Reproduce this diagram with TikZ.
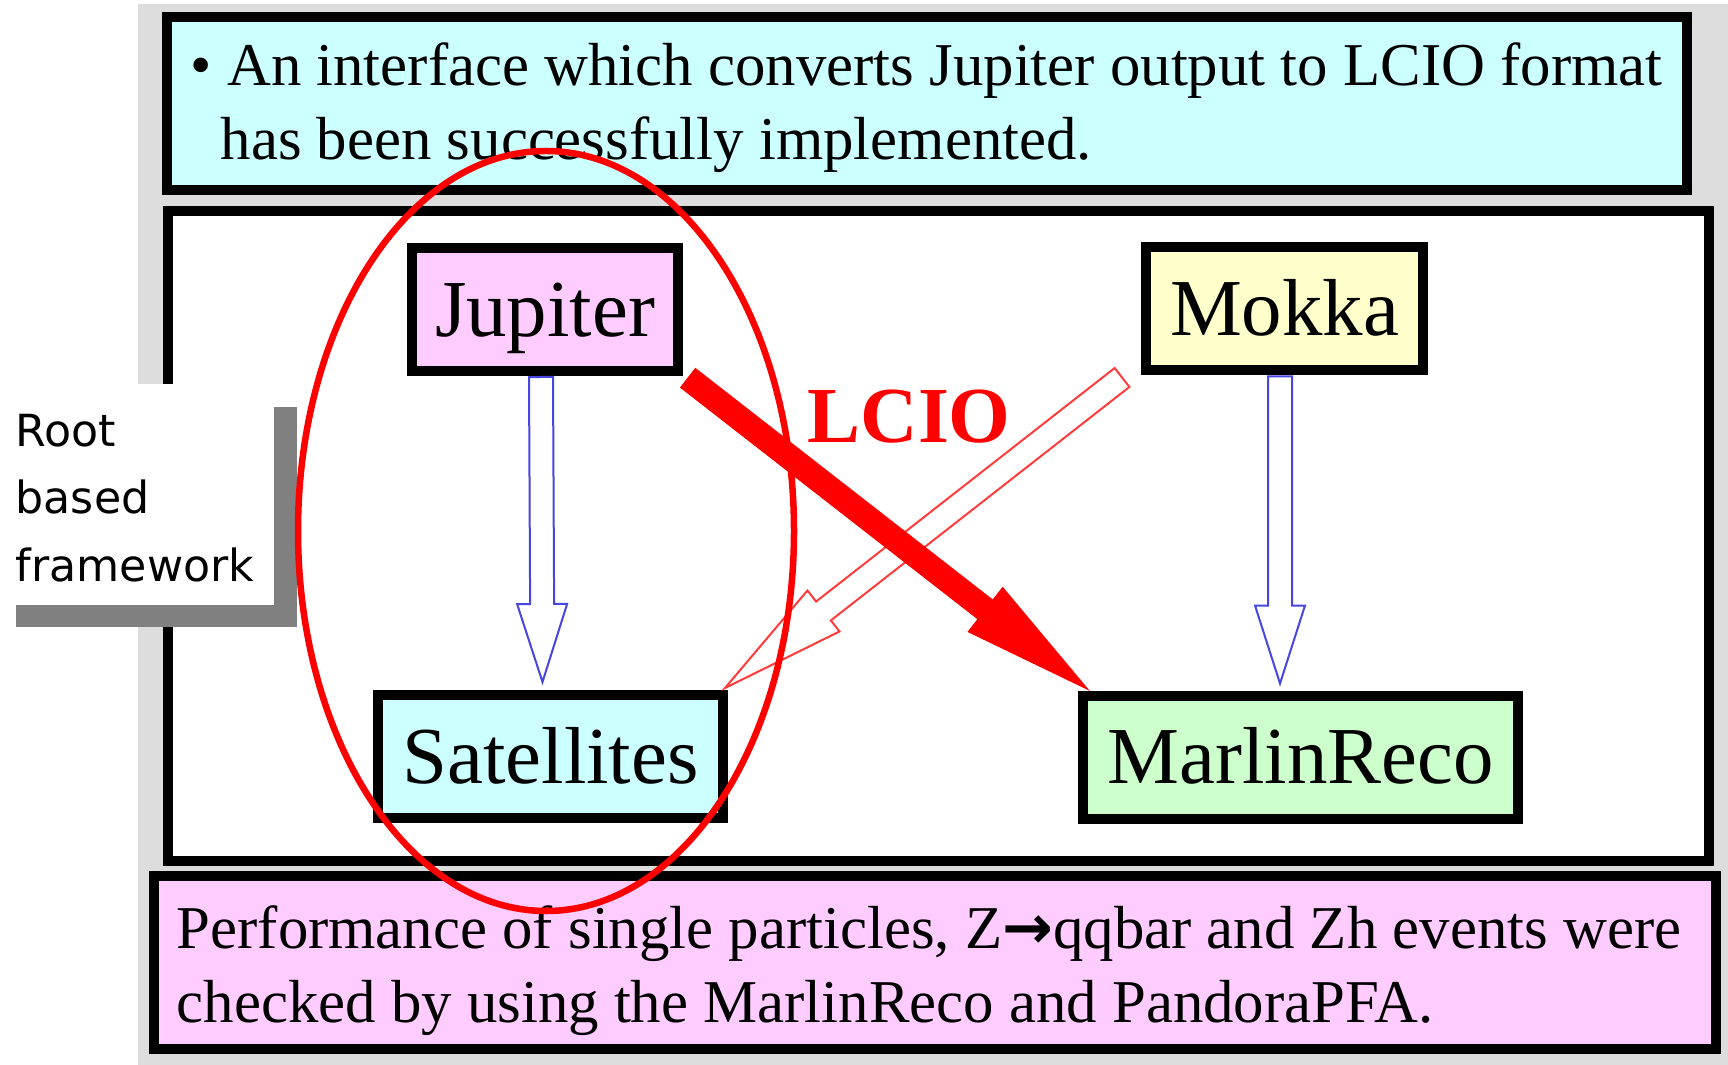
\documentclass[tikz,border=0pt]{standalone}
\usepackage{fontspec}
\setmainfont{Liberation Serif}
\newfontfamily\handfont{DejaVu Sans}
\usetikzlibrary{calc}
\definecolor{paleCyan}{HTML}{CCFFFF}
\definecolor{palePink}{HTML}{FFCCFF}
\definecolor{paleYellow}{HTML}{FFFFCC}
\definecolor{paleGreen}{HTML}{CCFFCC}
\definecolor{slideGray}{HTML}{DDDDDD}
\definecolor{shadowGray}{HTML}{808080}
\definecolor{arrowBlue}{RGB}{70,70,225}
\definecolor{lightRed}{RGB}{255,60,60}
% block arrow: style, from, to, half shaft, half head, head length
\newcommand{\blockarrow}[6]{%
\draw[#1] ($(#2)!#4!90:(#3)$) -- ($(#3)!#6!(#2)!#4!-90:(#2)$) -- ($(#3)!#6!(#2)!#5!-90:(#2)$) -- (#3)
 -- ($(#3)!#6!(#2)!#5!90:(#2)$) -- ($(#3)!#6!(#2)!#4!90:(#2)$) -- ($(#2)!#4!-90:(#3)$) -- cycle;}
\begin{document}
\begin{tikzpicture}[x=0.1mm,y=-0.1mm,
  frame/.style={draw=black,line width=1mm},
  box/.style={draw=black,line width=1mm,inner sep=0pt,text height=15.2pt,text depth=0pt,
    font=\fontsize{23}{27}\selectfont,minimum height=12.3mm},
  note/.style={anchor=base west,inner sep=0pt,font=\fontsize{17.3}{21}\selectfont},
  rootline/.style={anchor=base west,inner sep=0pt,font=\handfont\fontsize{12.6}{15}\selectfont}]
\useasboundingbox (0,0) rectangle (1728,1065);
\fill[slideGray] (138,4) rectangle (1728,1065);

\draw[frame,fill=paleCyan] (167,17) rectangle (1687,190);
\draw[frame,fill=white] (168,211) rectangle (1709,861);
\draw[frame,fill=palePink] (154,876) rectangle (1716,1049);

\node[note] (top1) at (190,86) {• An interface which converts Jupiter output to LCIO format};
\node[note] (top2) at (220,160) {has been successfully implemented.};
\node[note] (bot1) at (176,948) {Performance of single particles, Z{\handfont\bfseries →}qqbar and Zh events were};
\node[note] (bot2) at (176,1022) {checked by using the MarlinReco and PandoraPFA.};

\node[box,fill=palePink,minimum width=26.6mm] (jup) at (545,309.5) {Jupiter};
\node[box,fill=paleYellow,minimum width=27.7mm] (mokka) at (1284.5,309) {Mokka};
\node[box,fill=paleCyan,minimum width=34.5mm] (sat) at (550.5,756.5) {Satellites};
\node[box,fill=paleGreen,minimum width=43.5mm] (marlin) at (1300.5,757) {MarlinReco};

\coordinate (jupout) at ([shift={(-4,1)}]jup.south);
\coordinate (satin) at ([shift={(-8,-8)}]sat.north);
\coordinate (mokout) at ([shift={(-4.5,1)}]mokka.south);
\coordinate (marin) at ([shift={(-20.5,-7)}]marlin.north);
\coordinate (lcioA) at ([shift={(5,2)}]jup.south east);
\coordinate (lcioB) at ([shift={(10,-1)}]marlin.north west);
\coordinate (lcioC) at ([shift={(-19,2)}]mokka.south west);
\coordinate (lcioD) at ([shift={(-3,-2)}]sat.north east);

\blockarrow{draw=arrowBlue,fill=white,line width=0.2mm}{jupout}{satin}{1.2mm}{2.5mm}{7.8mm}
\blockarrow{draw=arrowBlue,fill=white,line width=0.2mm}{mokout}{marin}{1.2mm}{2.5mm}{7.8mm}
\blockarrow{draw=lightRed,fill=white,line width=0.2mm}{lcioC}{lcioD}{1.2mm}{2.6mm}{12.5mm}
\blockarrow{draw=red,fill=red,line width=0.1mm}{lcioA}{lcioB}{1.2mm}{2.8mm}{13mm}

\node[anchor=base west,inner sep=0pt,text=red,font=\fontsize{22.6}{26}\selectfont\bfseries] (lcio) at (807,443) {LCIO};

\fill[shadowGray] (16,407) rectangle (297,627);
\fill[white] (0,384) rectangle (274,605);
\foreach \w [count=\i] in {Root,based,framework}
  \node[rootline] (root\i) at (15,380+67*\i) {\w};

\draw[red,line width=0.65mm] (546,531) ellipse [x radius=248,y radius=380];
\end{tikzpicture}
\end{document}
